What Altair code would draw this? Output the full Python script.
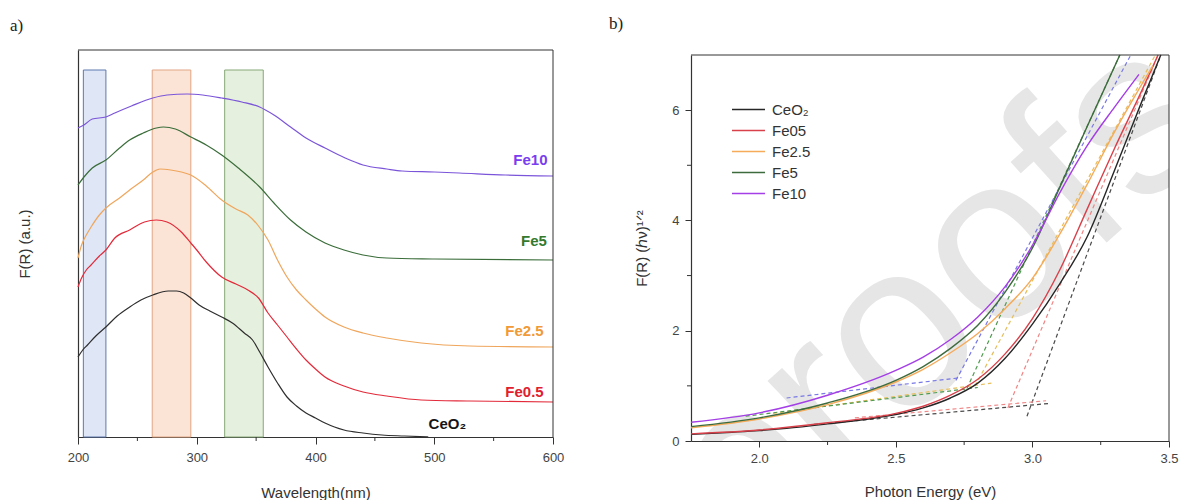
import altair as alt
import pandas as pd

FONT = "Liberation Sans"

# ---------------- a) F(R) spectra, stacked with vertical offsets (a.u.) ----------------
wl_ceo2 = [200, 204, 208, 215, 223.5, 233, 243.5, 253, 263, 276, 283, 289, 295, 302, 311, 321, 330,
           340, 347, 353, 360, 368, 376, 384, 392, 400, 408, 416, 424, 440, 456, 475, 495]
fr_ceo2 = [80, 87, 92, 101, 110, 121, 130, 137, 142, 146, 146, 144, 139, 132, 126, 120, 114,
           104, 97, 85, 70, 54, 40, 31, 24, 19, 14, 10, 7, 4, 2, 1, 0]

wl_fe05 = [200, 203, 207, 211, 218, 223.5, 231, 243.5, 256, 266, 275, 287, 295, 300, 308, 321,
           333, 343, 352, 360, 368, 376, 384, 392, 400, 408, 424, 440, 460, 489, 530, 600]
fr_fe05 = [150, 159, 167, 172, 181, 187, 199, 207, 215, 217, 215, 205, 194, 187, 175, 160,
           153, 147, 139, 124, 112, 100, 88, 77, 68, 60, 51, 45, 41, 37, 36, 35]

wl_fe25 = [200, 203, 207, 211, 218, 223.5, 235, 243.5, 255, 263, 269, 278, 287, 295, 308, 321,
           333, 343, 352, 360, 368, 376, 384, 392, 400, 408, 424, 440, 460, 489, 530, 600]
fr_fe25 = [179, 192, 202, 210, 222, 229, 239, 247, 257, 265, 268, 267, 265, 262, 251, 237,
           228, 222, 211, 197, 177, 160, 147, 137, 128, 120, 110, 104, 99, 94, 91, 90]

wl_fe5 = [200, 205, 212, 223.5, 235, 243.5, 255, 266, 272, 282, 295, 308, 321, 335, 353, 365,
          379, 392, 408, 424, 440, 460, 500, 600]
fr_fe5 = [252, 260, 269, 277, 289, 297, 304, 309, 310, 308, 300, 292, 282, 269, 250, 234,
          217, 205, 194, 187, 182, 179, 178, 177]

wl_fe10 = [200, 205, 212, 223.5, 231, 245, 263, 275, 292, 305, 321, 338, 353, 365, 379, 392,
           408, 425, 440, 460, 473, 500, 521, 560, 600]
fr_fe10 = [309, 312, 318, 320, 324, 331, 339, 342, 343, 342, 339, 335, 330, 322, 310, 299,
           289, 279, 272, 268, 266, 265, 264, 262, 261]

names_a = ["CeO2", "Fe0.5", "Fe2.5", "Fe5", "Fe10"]
colors_a = ["#2e2e2e", "#e22a3a", "#efa65c", "#3a6d3a", "#7b55d9"]
label_text_a = ["CeO₂", "Fe0.5", "Fe2.5", "Fe5", "Fe10"]
label_color_a = ["#151515", "#e0202f", "#f09a38", "#347a2e", "#7a3ef0"]
label_wl_a = [511, 576, 576, 584, 581]
label_fr_a = [13, 45, 106, 196, 277]

# highlighted wavelength windows
band_lo = [204.5, 262.5, 323.5]
band_hi = [223.5, 295.0, 356.0]
band_top = [367, 367, 367]
band_fill = ["#dfe6f6", "#fbe4d6", "#e6f0de"]
band_edge = ["#5d78ad", "#e2a584", "#86a878"]

# ---------------- b) Tauc-type plot ----------------
e_ceo2 = [1.75, 1.9, 2.0, 2.1, 2.25, 2.4, 2.5, 2.6, 2.7, 2.8, 2.9, 3.0, 3.1, 3.2, 3.3, 3.4, 3.47]
k_ceo2 = [0.12, 0.16, 0.19, 0.23, 0.31, 0.40, 0.48, 0.60, 0.78, 1.05, 1.50, 2.12, 2.85, 3.70, 4.90, 6.15, 7.0]

e_fe05 = [1.75, 2.0, 2.25, 2.5, 2.6, 2.7, 2.8, 2.9, 3.0, 3.1, 3.2, 3.3, 3.4, 3.46]
k_fe05 = [0.13, 0.20, 0.33, 0.50, 0.63, 0.83, 1.12, 1.58, 2.22, 3.10, 4.20, 5.30, 6.35, 7.0]

e_fe25 = [1.75, 2.0, 2.25, 2.5, 2.6, 2.7, 2.8, 2.9, 3.0, 3.1, 3.2, 3.3, 3.44]
k_fe25 = [0.24, 0.40, 0.66, 1.07, 1.30, 1.60, 1.95, 2.40, 2.95, 3.75, 4.65, 5.60, 6.80]

e_fe5 = [1.75, 2.0, 2.25, 2.5, 2.6, 2.7, 2.8, 2.9, 3.0, 3.1, 3.2, 3.32]
k_fe5 = [0.26, 0.42, 0.69, 1.10, 1.35, 1.68, 2.10, 2.70, 3.50, 4.60, 5.70, 7.0]

e_fe10 = [1.75, 2.0, 2.25, 2.5, 2.6, 2.7, 2.8, 2.9, 3.0, 3.1, 3.2, 3.3, 3.39]
k_fe10 = [0.34, 0.51, 0.83, 1.28, 1.52, 1.84, 2.25, 2.80, 3.55, 4.50, 5.35, 6.05, 6.65]

names_b = ["CeO₂", "Fe05", "Fe2.5", "Fe5", "Fe10"]
colors_b = ["#262626", "#d8404a", "#f5ab5a", "#3d6b3d", "#a43ee6"]
dash_colors_b = ["#4a4a4a", "#f08585", "#e6be5a", "#4f9a4f", "#7878e6"]

# extrapolated tangents: steep edge line and baseline, (e0, k0, e1, k1)
steep_b = [(2.98, 0.45, 3.47, 7.0), (2.91, 0.60, 3.46, 7.0), (2.79, 1.00, 3.45, 7.0),
           (2.76, 0.95, 3.32, 7.0), (2.72, 1.10, 3.36, 7.0)]
base_b = [(2.20, 0.30, 3.06, 0.68), (2.35, 0.42, 3.05, 0.73), (2.05, 0.50, 2.85, 1.05),
          (1.95, 0.45, 2.80, 0.97), (2.10, 0.78, 2.74, 1.15)]

# ---------------- tables ----------------
rows = []
for name, xs, ys in zip(names_a, [wl_ceo2, wl_fe05, wl_fe25, wl_fe5, wl_fe10],
                        [fr_ceo2, fr_fe05, fr_fe25, fr_fe5, fr_fe10]):
    for x, y in zip(xs, ys):
        rows.append({"sample": name, "wl": x, "fr": y})
df_a = pd.DataFrame(rows)
df_lab_a = pd.DataFrame({"text": label_text_a, "color": label_color_a,
                         "wl": label_wl_a, "fr": label_fr_a})
df_bands = pd.DataFrame({"lo": band_lo, "hi": band_hi, "top": band_top,
                         "fill": band_fill, "edge": band_edge})

rows = []
for name, xs, ys in zip(names_b, [e_ceo2, e_fe05, e_fe25, e_fe5, e_fe10],
                        [k_ceo2, k_fe05, k_fe25, k_fe5, k_fe10]):
    for x, y in zip(xs, ys):
        rows.append({"catalyst": name, "e": x, "k": y})
df_b = pd.DataFrame(rows)

rows = []
for i, name in enumerate(names_b):
    for kind, seg in (("steep", steep_b[i]), ("base", base_b[i])):
        rows.append({"seg": f"{name}-{kind}", "color": dash_colors_b[i], "e": seg[0], "k": seg[1]})
        rows.append({"seg": f"{name}-{kind}", "color": dash_colors_b[i], "e": seg[2], "k": seg[3]})
df_dash = pd.DataFrame(rows)

# ---------------- panel a ----------------
WA, HA = 475, 387
ax_ax = alt.Axis(values=[200, 300, 400, 500, 600], title="Wavelength(nm)", tickSize=7,
                 labelPadding=7, titlePadding=21, labelFlush=False)
ax_ay = alt.Axis(labels=False, ticks=False, title="F(R) (a.u.)", titlePadding=46)
xa_scale = alt.Scale(domain=[200, 600], nice=False, zero=False)
ya_scale = alt.Scale(domain=[0, 387], nice=False)

bands = alt.Chart(df_bands).mark_rect(strokeWidth=1).encode(
    x=alt.X("lo:Q", scale=xa_scale, axis=ax_ax),
    x2="hi:Q",
    y=alt.Y("top:Q", scale=ya_scale, axis=ax_ay),
    y2=alt.datum(0),
    fill=alt.Fill("fill:N", scale=None),
    stroke=alt.Stroke("edge:N", scale=None),
)
lines_a = alt.Chart(df_a).mark_line(strokeWidth=1.2, interpolate="monotone").encode(
    x=alt.X("wl:Q", scale=xa_scale, axis=ax_ax),
    y=alt.Y("fr:Q", scale=ya_scale, axis=ax_ay),
    color=alt.Color("sample:N", scale=alt.Scale(domain=names_a, range=colors_a), legend=None),
)
labels_a = alt.Chart(df_lab_a).mark_text(font=FONT, fontSize=15, fontWeight="bold",
                                         align="center", baseline="middle").encode(
    x=alt.X("wl:Q", scale=xa_scale, axis=ax_ax),
    y=alt.Y("fr:Q", scale=ya_scale, axis=ax_ay),
    text="text:N",
    color=alt.Color("color:N", scale=None),
)
minor_a = alt.Chart(pd.DataFrame({"v": [250, 350, 450, 550]})).mark_rule(color="#333").encode(
    x=alt.X("v:Q", scale=xa_scale, axis=ax_ax),
    y=alt.value(HA), y2=alt.value(HA + 4),
)
frame_top_a = alt.Chart().mark_rule(color="#333").encode(
    x=alt.value(0), x2=alt.value(WA), y=alt.value(0))
frame_right_a = alt.Chart().mark_rule(color="#333").encode(
    x=alt.value(WA), y=alt.value(0), y2=alt.value(HA))
tag_a = alt.Chart().mark_text(text="a)", font="Liberation Serif", fontSize=17,
                              align="left", baseline="middle", color="#222").encode(
    x=alt.value(-68), y=alt.value(-24))

panel_a = alt.layer(bands, lines_a, labels_a, minor_a, frame_top_a, frame_right_a, tag_a).properties(
    width=WA, height=HA)

# ---------------- panel b ----------------
WB, HB = 478, 391
TOP_B = 5
ax_bx = alt.Axis(values=[2.0, 2.5, 3.0, 3.5], format=".1f", title="Photon Energy (eV)", tickSize=6,
                 labelPadding=5, titlePadding=19, labelFlush=False)
ax_by = alt.Axis(values=[0, 2, 4, 6], format="d", title="F(R) (ℎν)¹ᐟ²", tickSize=6,
                 labelPadding=6, titlePadding=22)
xb_scale = alt.Scale(domain=[1.75, 3.5], nice=False, zero=False)
yb_scale = alt.Scale(domain=[0, 7], nice=False, range=[HB, TOP_B])

watermark = alt.Chart().mark_text(text="proofs", font=FONT, fontSize=235,
                                  angle=318, color="#e6e6e6", align="center", baseline="middle",
                                  clip=True).encode(x=alt.value(246), y=alt.value(250))

dash_b = alt.Chart(df_dash).mark_line(strokeWidth=1.2, strokeDash=[4, 3], clip=True).encode(
    x=alt.X("e:Q", scale=xb_scale, axis=ax_bx),
    y=alt.Y("k:Q", scale=yb_scale, axis=ax_by),
    detail="seg:N",
    color=alt.Color("color:N", scale=None),
)
# legend line sample: a horizontal stroke twice the symbol's nominal width
legend_line = "M-2,0H2"
lines_b = alt.Chart(df_b).mark_line(strokeWidth=1.4, interpolate="monotone", clip=True).encode(
    x=alt.X("e:Q", scale=xb_scale, axis=ax_bx),
    y=alt.Y("k:Q", scale=yb_scale, axis=ax_by),
    color=alt.Color("catalyst:N", scale=alt.Scale(domain=names_b, range=colors_b),
                    sort=names_b,
                    legend=alt.Legend(title=None, orient="none", legendX=48, legendY=50,
                                      symbolType=legend_line, symbolSize=272,
                                      symbolStrokeWidth=1.6,
                                      labelFont=FONT, labelFontSize=15, labelColor="#333",
                                      labelOffset=14, rowPadding=3)),
)
minor_bx = alt.Chart(pd.DataFrame({"v": [2.25, 2.75, 3.25]})).mark_rule(color="#333").encode(
    x=alt.X("v:Q", scale=xb_scale, axis=ax_bx),
    y=alt.value(HB), y2=alt.value(HB + 4),
)
minor_by = alt.Chart(pd.DataFrame({"v": [1, 3, 5]})).mark_rule(color="#333").encode(
    y=alt.Y("v:Q", scale=yb_scale, axis=ax_by),
    x=alt.value(0), x2=alt.value(-4),
)
frame_top_b = alt.Chart().mark_rule(color="#333").encode(
    x=alt.value(0), x2=alt.value(WB), y=alt.value(TOP_B))
frame_right_b = alt.Chart().mark_rule(color="#333").encode(
    x=alt.value(WB), y=alt.value(TOP_B), y2=alt.value(HB))
tag_b = alt.Chart().mark_text(text="b)", font="Liberation Serif", fontSize=17,
                              align="left", baseline="middle", color="#222").encode(
    x=alt.value(-82), y=alt.value(-26))

panel_b = alt.layer(watermark, dash_b, lines_b, minor_bx, minor_by, frame_top_b, frame_right_b,
                    tag_b).properties(width=WB, height=HB)

chart = alt.hconcat(panel_a, panel_b, spacing=45).resolve_scale(
    color="independent"
).resolve_legend(
    color="independent"
).properties(
    padding={"left": 10, "top": 15, "right": 0, "bottom": 0}
).configure_view(strokeWidth=0).configure_axis(
    grid=False, labelFont=FONT, titleFont=FONT, labelFontSize=13, titleFontSize=15,
    labelColor="#444", titleColor="#333", titleFontWeight="normal",
    domainColor="#333", tickColor="#333", domainWidth=1.2,
)

chart.save("out.html", embed_options={"renderer": "svg", "actions": False})
